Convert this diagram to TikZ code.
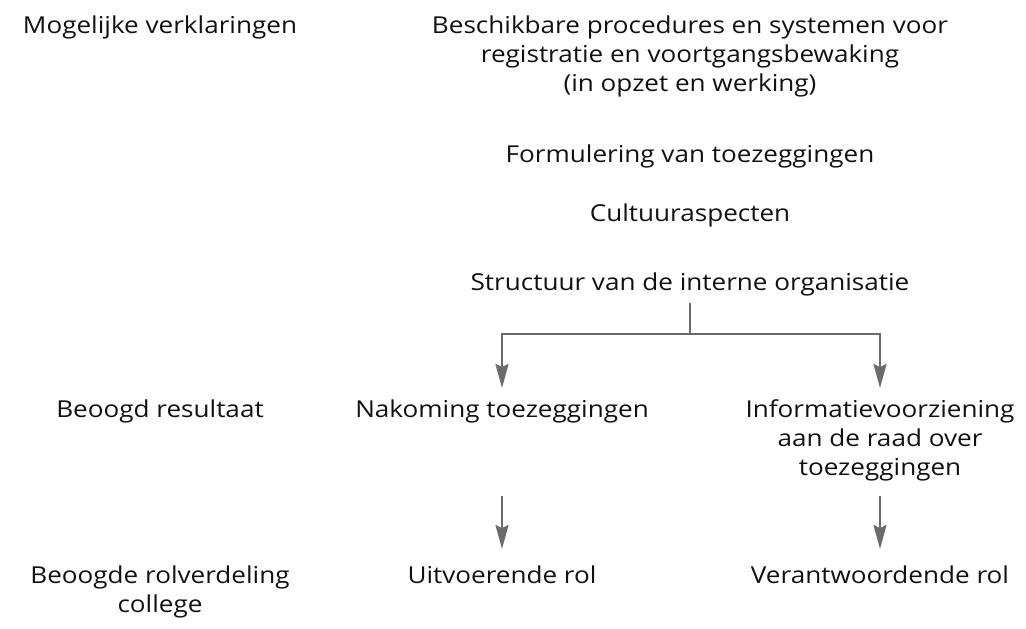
\documentclass[tikz,border=0pt]{standalone}
\usepackage{fontspec}
\setmainfont{Open Sans}[FakeStretch=1.12]
\usetikzlibrary{arrows.meta}
\definecolor{linegray}{HTML}{6B6B6B}
\definecolor{txt}{HTML}{111111}
\begin{document}
\begin{tikzpicture}[x=1pt,y=-1pt,
  lbl/.style={anchor=base,inner sep=0pt,align=center,text=txt,
    font=\fontsize{23.3}{29}\selectfont},
  conn/.style={draw=linegray,line width=2.2pt},
  arr/.style={conn,-{Stealth[length=24pt,width=13pt,inset=3pt]}}]
\useasboundingbox (0,0) rectangle (1026,629);
% left column (multi-line nodes: base = last line)
\node[lbl] (mog) at (160,33) {Mogelijke verklaringen};
\node[lbl] (res) at (160,417) {Beoogd resultaat};
\node[lbl] (rol) at (160,612) {Beoogde rolverdeling\\college};
% top column
\node[lbl] (besch) at (690,91) {Beschikbare procedures en systemen voor\\registratie en voortgangsbewaking\\(in opzet en werking)};
\node[lbl] (form) at (690,162) {Formulering van toezeggingen};
\node[lbl] (cult) at (690,221) {Cultuuraspecten};
\node[lbl] (struct) at (690,290) {Structuur van de interne organisatie};
% results
\node[lbl] (nak) at (502,417) {Nakoming toezeggingen};
\node[lbl] (info) at (880,475) {Informatievoorziening\\aan de raad over\\toezeggingen};
\node[lbl] (uit) at (502,583) {Uitvoerende rol};
\node[lbl] (ver) at (880,583) {Verantwoordende rol};
% connector points
\coordinate (jt) at (690,303);
\coordinate (j) at (690,334);
\coordinate (jl) at (502,334);
\coordinate (jr) at (880,334);
\coordinate (tl) at (502,388);
\coordinate (tr) at (880,388);
\coordinate (sl) at (502,496);
\coordinate (sr) at (880,496);
\coordinate (el) at (502,549);
\coordinate (er) at (880,549);
\draw[conn] (jt) -- (j);
\draw[arr] (j) -- (jl) -- (tl);
\draw[arr] (j) -- (jr) -- (tr);
\draw[arr] (sl) -- (el);
\draw[arr] (sr) -- (er);
\end{tikzpicture}
\end{document}
